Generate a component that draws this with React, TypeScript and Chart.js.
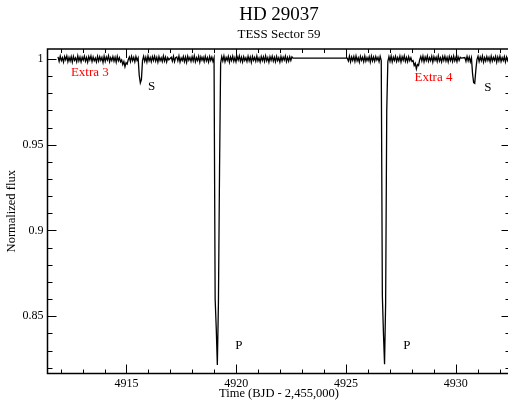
import { useEffect, useRef } from "react";
import { Chart, registerables } from "chart.js";

Chart.register(...registerables);

// Light curve, sampled on a regular cadence (days) within each data segment
const CADENCE = 0.05;

const seg1Start = 4911.88;
const seg1Flux = [
  1.0012, 0.9986, 1.0016, 0.9990, 1.0007, 0.9982, 1.0014, 0.9995, 1.0017, 0.9984,
  1.0009, 0.9988, 1.0013, 0.9981, 1.0015, 0.9992, 1.0006, 0.9983, 1.0018, 0.9989,
  1.0011, 0.9983, 1.0010, 0.9993, 1.0016, 0.9987, 1.0008, 0.9981, 1.0014, 0.9994,
  1.0017, 0.9985, 1.0011, 0.9989, 1.0005, 0.9982, 1.0015, 0.9988, 1.0013, 0.9991,
  1.0009, 0.9980, 1.0016, 0.9986, 1.0011, 0.9993, 1.0018, 0.9984, 1.0008, 0.9990,
  1.0014, 0.9987, 1.0010, 0.9981, 1.0015, 0.9989, 1.0007, 0.9983,
  0.9994, 0.9968, 0.9985, 0.9955, 0.9978, 0.9970, 0.9996,
  1.0011, 0.9985, 1.0015, 0.9990, 1.0009, 0.9983, 1.0014, 0.9992,
  1.0006, 0.9905, 0.9860, 0.9880, 0.9990,
  1.0015, 0.9986, 1.0010, 0.9982, 1.0017, 0.9989, 1.0008, 0.9984, 1.0013, 0.9991, 1.0016, 0.9987,
  1.0009, 0.9981, 1.0014, 0.9990, 1.0007, 0.9985, 1.0017, 0.9988, 1.0011, 0.9983, 1.0008, 0.9995,
];

const seg2Start = 4917.04;
const seg2Flux = [
  1.0010, 0.9987, 1.0015, 0.9984, 1.0008, 1.0012, 0.9989, 1.0017, 0.9982, 1.0006,
  0.9991, 1.0014, 0.9985, 1.0011, 0.9980, 1.0016, 0.9993, 1.0009, 0.9986, 1.0013,
  0.9988, 1.0018, 0.9983, 1.0007, 0.9990, 1.0015, 0.9981, 1.0012, 0.9992, 1.0010,
  0.9985, 1.0016, 0.9989, 1.0008, 0.9982, 1.0014, 0.9991, 1.0011, 0.9986, 1.0007,
  0.8600, 0.8430, 0.8215, 0.8580, 0.9350, 0.9975,
  1.0013, 0.9988, 1.0017, 0.9984, 1.0009, 0.9992, 1.0015, 0.9981, 1.0011, 0.9990,
  1.0016, 0.9986, 1.0008, 0.9983, 1.0014, 0.9993, 1.0018, 0.9987, 1.0010, 0.9982,
  1.0013, 0.9991, 1.0007, 0.9985, 1.0016, 0.9989, 1.0011, 0.9980, 1.0015, 0.9992,
  1.0009, 0.9986, 1.0017, 0.9988, 1.0006, 0.9983, 1.0014, 0.9990, 1.0012, 0.9985,
  1.0018, 0.9989, 1.0008, 0.9981, 1.0013, 0.9992, 1.0016, 0.9987, 1.0010, 0.9984,
  1.0015, 0.9990, 1.0007, 0.9982, 1.0014, 0.9988, 1.0011, 0.9993, 1.0017, 0.9985,
  1.0009, 0.9987, 1.0013, 0.9991, 1.0012, 1.0005,
];

const seg3Start = 4925.06;
const seg3Flux = [
  1.0005, 0.9988, 1.0016, 0.9983, 1.0011, 0.9991, 1.0014, 0.9985, 1.0018, 0.9989,
  1.0007, 0.9981, 1.0015, 0.9992, 1.0010, 0.9984, 1.0017, 0.9987, 1.0008, 0.9990,
  1.0013, 0.9982, 1.0016, 0.9989, 1.0011, 0.9986, 1.0014, 0.9993, 1.0009, 0.9984,
  1.0015, 0.9990,
  0.8620, 0.8400, 0.8220, 0.8580, 0.9700, 0.9985,
  1.0014, 0.9987, 1.0017, 0.9983, 1.0010, 0.9991, 1.0015, 0.9985, 1.0008, 0.9989,
  1.0016, 0.9982, 1.0012, 0.9992, 1.0018, 0.9986, 1.0009, 0.9984, 1.0013, 0.9990, 1.0007, 0.9985,
  0.9990, 0.9962, 0.9975, 0.9942, 0.9968, 0.9962, 0.9995,
  1.0014, 0.9988, 1.0016, 0.9983, 1.0011, 0.9991, 1.0017, 0.9986, 1.0008, 0.9990,
  1.0015, 0.9981, 1.0013, 0.9992, 1.0010, 0.9985, 1.0018, 0.9988, 1.0007, 0.9983,
  1.0014, 0.9991, 1.0016, 0.9987, 1.0009, 0.9982, 1.0015, 0.9990, 1.0011, 0.9985,
  1.0017, 0.9989, 1.0008, 0.9984, 1.0013, 0.9992, 1.0010, 1.0005,
];

const seg4Start = 4930.42;
const seg4Flux = [
  1.0008, 0.9986, 1.0015, 0.9989, 1.0012, 0.9983, 1.0006,
  0.9915, 0.9862, 0.9858, 0.9935, 0.9996,
  1.0016, 0.9985, 1.0011, 0.9990, 1.0017, 0.9982, 1.0008, 0.9988, 1.0014, 0.9991,
  1.0010, 0.9984, 1.0016, 0.9987, 1.0009, 0.9992, 1.0015, 0.9981, 1.0012, 0.9989,
  1.0017, 0.9985, 1.0008, 0.9990, 1.0014, 0.9983, 1.0011, 0.9991, 1.0016, 0.9988, 1.0009,
];

// Axis ranges and ticks
const X_MIN = 4911.4;
const X_MAX = 4932.5;
const Y_MIN = 0.8166;
const Y_MAX = 1.0058;
const xMajorTicks = [4915, 4920, 4925, 4930];
const xMinorTicks = [4912, 4913, 4914, 4916, 4917, 4918, 4919, 4921, 4922, 4923, 4924, 4926, 4927, 4928, 4929, 4931, 4932];
const yMajorTicks = [0.85, 0.9, 0.95, 1];
const yMinorTicks = [0.82, 0.83, 0.84, 0.86, 0.87, 0.88, 0.89, 0.91, 0.92, 0.93, 0.94, 0.96, 0.97, 0.98, 0.99];

// Event labels placed in data coordinates
const eventText = ["Extra 3", "S", "P", "P", "Extra 4", "S"];
const eventTime = [4913.33, 4916.15, 4920.12, 4927.78, 4928.99, 4931.47];
const eventFlux = [0.9918, 0.9837, 0.8326, 0.8326, 0.9889, 0.9831];
const eventColor = ["#ff0000", "#000000", "#000000", "#000000", "#ff0000", "#000000"];

const TITLE = "HD 29037";
const SUBTITLE = "TESS Sector 59";
const X_LABEL = "Time (BJD - 2,455,000)";
const Y_LABEL = "Normalized flux";

const SERIF = '"Liberation Serif", "Times New Roman", serif';

function buildPoints() {
  const segs: [number, number[]][] = [
    [seg1Start, seg1Flux],
    [seg2Start, seg2Flux],
    [seg3Start, seg3Flux],
    [seg4Start, seg4Flux],
  ];
  const pts: { x: number; y: number }[] = [];
  for (const [start, flux] of segs) {
    flux.forEach((f, i) => pts.push({ x: +(start + i * CADENCE).toFixed(3), y: f }));
  }
  return pts;
}

const frameAndText = {
  id: "frameAndText",
  afterDraw(chart: any) {
    const { ctx, chartArea: a } = chart;
    const xs = chart.scales.x;
    const ys = chart.scales.y;
    ctx.save();
    ctx.strokeStyle = "#000";
    ctx.lineWidth = 1;
    ctx.beginPath();
    const xTick = (v: number, len: number) => {
      const px = Math.round(xs.getPixelForValue(v)) + 0.5;
      ctx.moveTo(px, a.bottom);
      ctx.lineTo(px, a.bottom - len);
      ctx.moveTo(px, a.top);
      ctx.lineTo(px, a.top + len);
    };
    const yTick = (v: number, len: number) => {
      const py = Math.round(ys.getPixelForValue(v)) + 0.5;
      ctx.moveTo(a.left, py);
      ctx.lineTo(a.left + len, py);
      ctx.moveTo(a.right, py);
      ctx.lineTo(a.right - len, py);
    };
    xMajorTicks.forEach((v) => xTick(v, 9));
    xMinorTicks.forEach((v) => xTick(v, 4));
    yMajorTicks.forEach((v) => yTick(v, 9));
    yMinorTicks.forEach((v) => yTick(v, 5));
    ctx.stroke();

    ctx.lineWidth = 1.5;
    ctx.strokeRect(a.left, a.top, a.right - a.left, a.bottom - a.top);

    const cx = (a.left + a.right) / 2;
    const cy = (a.top + a.bottom) / 2;
    ctx.fillStyle = "#000";
    ctx.textAlign = "center";
    ctx.textBaseline = "middle";
    ctx.font = `19px ${SERIF}`;
    ctx.fillText(TITLE, cx, 15);
    ctx.font = `13px ${SERIF}`;
    ctx.fillText(SUBTITLE, cx, 35);

    ctx.font = `12.5px ${SERIF}`;
    ctx.fillText(X_LABEL, cx, 394);
    ctx.save();
    ctx.translate(12, cy);
    ctx.rotate(-Math.PI / 2);
    ctx.fillText(Y_LABEL, 0, 0);
    ctx.restore();

    ctx.font = `13px ${SERIF}`;
    eventText.forEach((t, i) => {
      ctx.fillStyle = eventColor[i];
      ctx.fillText(t, xs.getPixelForValue(eventTime[i]), ys.getPixelForValue(eventFlux[i]));
    });
    ctx.restore();
  },
};

export default function App() {
  const canvasRef = useRef<HTMLCanvasElement | null>(null);

  useEffect(() => {
    const canvas = canvasRef.current;
    if (!canvas) return;
    const tickFont = { family: SERIF, size: 12 };
    const chart = new Chart(canvas, {
      type: "line",
      data: {
        datasets: [
          {
            data: buildPoints(),
            borderColor: "#000",
            borderWidth: 1.3,
            pointRadius: 0,
            tension: 0,
            fill: false,
          },
        ],
      },
      options: {
        animation: false,
        responsive: false,
        devicePixelRatio: 1,
        events: [],
        layout: { padding: { top: 49, right: 3.5, left: 0, bottom: 0 } },
        plugins: {
          legend: { display: false },
          tooltip: { enabled: false },
          title: { display: false },
        },
        scales: {
          x: {
            type: "linear",
            min: X_MIN,
            max: X_MAX,
            grid: { display: false, drawTicks: false },
            border: { display: false },
            ticks: {
              font: tickFont,
              color: "#000",
              padding: 3,
              maxRotation: 0,
              autoSkip: false,
              callback: (v: any) => String(v),
            },
            afterBuildTicks: (s: any) => {
              s.ticks = xMajorTicks.map((value) => ({ value }));
            },
            afterFit: (s: any) => {
              s.height = 28.5;
            },
          },
          y: {
            type: "linear",
            min: Y_MIN,
            max: Y_MAX,
            grid: { display: false, drawTicks: false },
            border: { display: false },
            ticks: {
              font: tickFont,
              color: "#000",
              padding: 4,
              autoSkip: false,
              callback: (v: any) => String(v),
            },
            afterBuildTicks: (s: any) => {
              s.ticks = yMajorTicks.map((value) => ({ value }));
            },
            afterFit: (s: any) => {
              s.width = 47.5;
            },
          },
        },
      },
      plugins: [frameAndText],
    });
    return () => chart.destroy();
  }, []);

  return (
    <div
      style={{
        position: "absolute",
        left: 0,
        top: 0,
        width: 508,
        height: 402,
        overflow: "hidden",
        background: "#fff",
      }}
    >
      <canvas ref={canvasRef} width={514} height={402} style={{ display: "block", width: 514, height: 402 }} />
    </div>
  );
}
